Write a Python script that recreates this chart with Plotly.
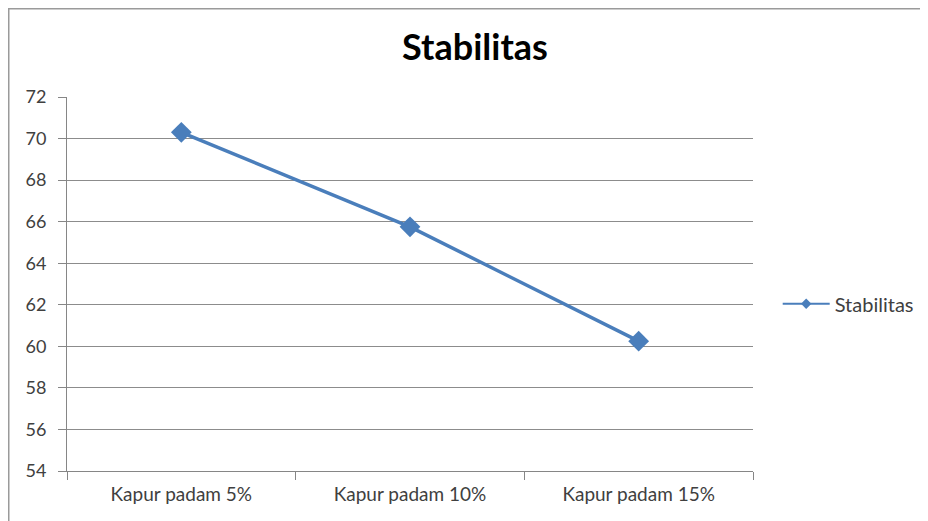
import plotly.graph_objects as go

categories = ["Kapur padam 5%", "Kapur padam 10%", "Kapur padam 15%"]
stabilitas = [70.3, 65.75, 60.25]
series_name = "Stabilitas"
title_text = "Stabilitas"

LINE_COLOR = "#4a7ebb"
font_family = "Lato, Carlito, Liberation Sans, sans-serif"

fig = go.Figure()
fig.add_trace(go.Scatter(
    x=categories, y=stabilitas, name=series_name,
    mode="lines+markers",
    line=dict(color=LINE_COLOR, width=3.5),
    marker=dict(symbol="diamond", size=16, color=LINE_COLOR),
    showlegend=False,
))
# legend entry drawn with a thinner line / smaller marker, as in the original
fig.add_trace(go.Scatter(
    x=[None], y=[None], name=series_name,
    mode="lines+markers",
    line=dict(color=LINE_COLOR, width=2),
    marker=dict(symbol="diamond", size=8, color=LINE_COLOR),
    showlegend=True, hoverinfo="skip",
))

L, T, PW, PH = 59, 89, 686, 374
W, H = 928, 521

fig.update_layout(
    width=W, height=H,
    margin=dict(l=L, r=W - L - PW, t=T, b=H - T - PH),
    paper_bgcolor="white", plot_bgcolor="white",
    font=dict(family=font_family, size=18, color="#404040"),
    title=dict(text="<b>" + title_text + "</b>", x=467 / W, xanchor="center",
               y=1 - 39 / H, yanchor="middle",
               font=dict(size=36, color="#000000", family=font_family)),
    legend=dict(x=1.036, xanchor="left", y=0.447, yanchor="middle",
                font=dict(size=20, color="#404040"), bgcolor="rgba(0,0,0,0)",
                itemwidth=47),
    xaxis=dict(
        type="category", range=[-0.5, 2.5], showgrid=False,
        showline=True, linecolor="#868686", linewidth=1,
        ticks="outside", tickson="boundaries", ticklen=8, tickcolor="#868686",
        tickfont=dict(size=19, color="#404040"), ticklabelstandoff=6,
    ),
    yaxis=dict(
        range=[54, 72], dtick=2, tick0=54,
        showgrid=True, gridcolor="#8c8c8c", gridwidth=1,
        showline=True, linecolor="#868686", linewidth=1,
        ticks="outside", ticklen=8, tickcolor="#868686",
        tickfont=dict(size=18, color="#404040"), zeroline=False,
        ticklabelstandoff=8,
    ),
    shapes=[dict(
        type="rect", xref="paper", yref="paper",
        x0=(0.75 - L) / PW, x1=(917 - L) / PW,
        y0=-0.3, y1=(T + PH - 0.75) / PH,
        line=dict(color="#9a9a9a", width=1.5), fillcolor="rgba(0,0,0,0)",
        layer="below",
    )],
)

fig.write_html("out.html")
